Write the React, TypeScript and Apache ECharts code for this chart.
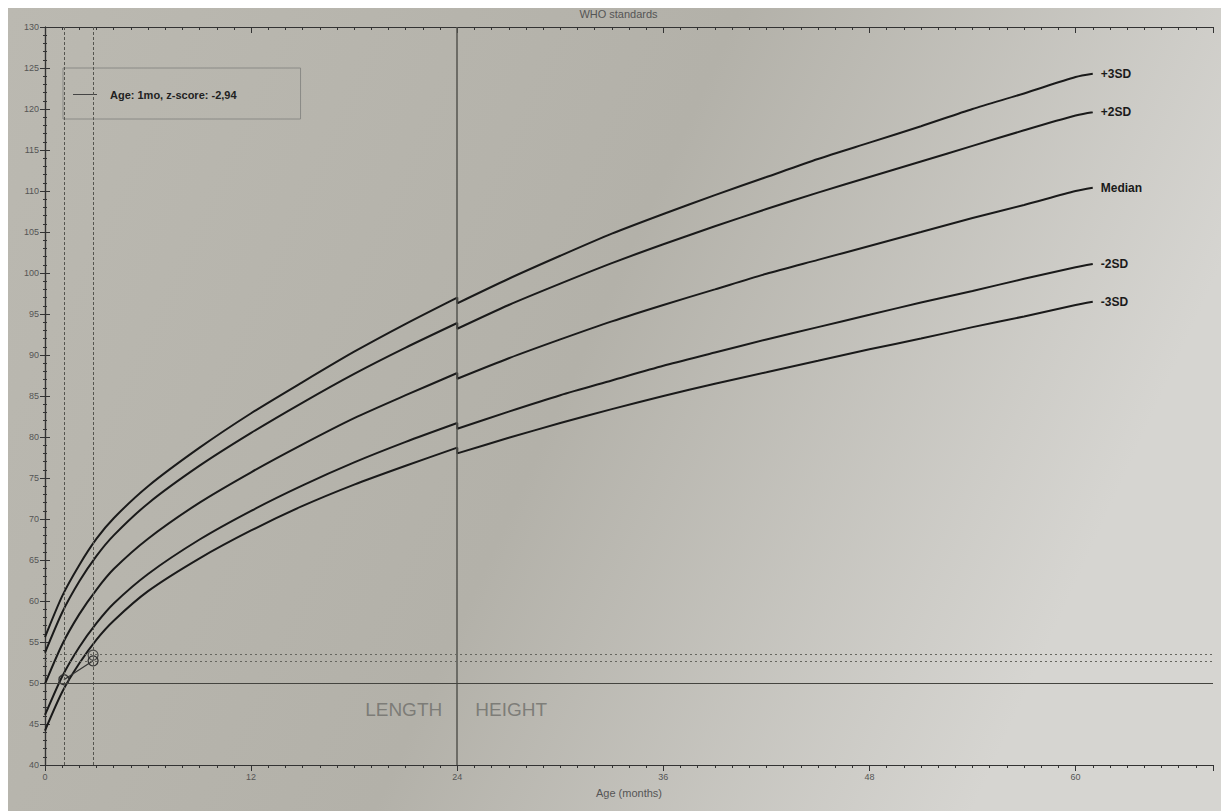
import React, { useEffect, useRef } from "react";
import * as echarts from "echarts";

// WHO length-for-age (0-24 mo) and height-for-age (24-61 mo), boys
const lengthMonths = [0, 1, 2, 3, 4, 6, 9, 12, 15, 18, 21, 24];
const lenM3 = [44.2, 48.9, 52.4, 55.3, 57.6, 61.2, 65.2, 68.6, 71.6, 74.2, 76.5, 78.7];
const lenM2 = [46.1, 50.8, 54.4, 57.3, 59.7, 63.3, 67.5, 71.0, 74.1, 76.9, 79.4, 81.7];
const lenMed = [49.9, 54.7, 58.4, 61.4, 63.9, 67.6, 72.0, 75.7, 79.1, 82.3, 85.1, 87.8];
const lenP2 = [53.7, 58.6, 62.4, 65.5, 68.0, 71.9, 76.5, 80.5, 84.2, 87.7, 90.9, 93.9];
const lenP3 = [55.6, 60.6, 64.4, 67.6, 70.1, 74.0, 78.7, 82.9, 86.7, 90.4, 93.8, 97.0];

const heightMonths = [24, 27, 30, 33, 36, 39, 42, 45, 48, 51, 54, 57, 60, 61];
const hM3 = [78.0, 79.9, 81.7, 83.4, 85.0, 86.5, 87.9, 89.3, 90.7, 92.0, 93.4, 94.7, 96.1, 96.5];
const hM2 = [81.0, 83.1, 85.1, 86.9, 88.7, 90.3, 91.9, 93.4, 94.9, 96.4, 97.8, 99.3, 100.7, 101.1];
const hMed = [87.1, 89.6, 91.9, 94.1, 96.1, 98.0, 99.9, 101.6, 103.3, 105.0, 106.7, 108.3, 110.0, 110.4];
const hP2 = [93.2, 96.1, 98.7, 101.2, 103.5, 105.7, 107.8, 109.8, 111.7, 113.6, 115.5, 117.4, 119.2, 119.6];
const hP3 = [96.3, 99.3, 102.1, 104.8, 107.2, 109.5, 111.7, 113.9, 115.9, 117.9, 120.0, 121.9, 123.9, 124.3];

const curveNames = ["+3SD", "+2SD", "Median", "-2SD", "-3SD"];
const lenCurves = [lenP3, lenP2, lenMed, lenM2, lenM3];
const hCurves = [hP3, hP2, hMed, hM2, hM3];

// patient measurements
const patientName = "Age: 1mo, z-score: -2,94";
const patientAges = [1.1, 2.8];
const patientLengths = [50.4, 52.7];
const extraAges = [2.8];
const extraLengths = [53.4];

const guideAges = [1.1, 2.8];
const guideLevelsDotted = [53.5, 52.6];
const guideLevelSolid = 50;
const dividerAge = 24;

const FONT = "Liberation Sans, Arial, sans-serif";

export default function App() {
  const ref = useRef<HTMLDivElement>(null);
  useEffect(() => {
    if (!ref.current) return;
    const chart = echarts.init(ref.current, null, { renderer: "svg" });

    const sdSeries = curveNames.map((name, i) => {
      const data: number[][] = [];
      lengthMonths.forEach((m, j) => data.push([m, lenCurves[i][j]]));
      heightMonths.forEach((m, j) => data.push([m, hCurves[i][j]]));
      return {
        type: "line",
        name,
        data,
        smooth: 0.25,
        symbol: "none",
        lineStyle: { color: "#1a1a1a", width: 2 },
        endLabel: {
          show: true,
          formatter: "{a}",
          fontFamily: FONT,
          fontWeight: "bold",
          fontSize: 12,
          color: "#1a1a1a",
          distance: 8,
        },
        silent: true,
        z: 3,
      };
    });

    const openCircle = { color: "rgba(0,0,0,0)", borderColor: "#333", borderWidth: 1.3 };

    const option: any = {
      animation: false,
      backgroundColor: {
        type: "linear",
        x: 0,
        y: 0,
        x2: 1,
        y2: 0.3,
        colorStops: [
          { offset: 0, color: "#bbb9b1" },
          { offset: 0.55, color: "#b3b1a9" },
          { offset: 1, color: "#d6d5d1" },
        ],
      },
      title: {
        text: "WHO standards",
        left: "center",
        top: 0,
        padding: [0, 0, 0, 0],
        textStyle: { fontFamily: FONT, fontSize: 11, fontWeight: "normal", color: "#555" },
      },
      legend: {
        left: 55,
        top: 60,
        data: [{ name: patientName, itemStyle: { color: "#444", borderWidth: 0 } }],
        icon: "rect",
        itemWidth: 24,
        itemHeight: 1,
        padding: [21, 64, 19, 10],
        borderColor: "#8a8a86",
        borderWidth: 1,
        selectedMode: false,
        textStyle: { fontFamily: FONT, fontSize: 11, fontWeight: "bold", color: "#222", padding: [0, 0, 0, 8] },
      },
      grid: { left: 37, right: 16, top: 19, bottom: 46 },
      xAxis: [
        {
          type: "value",
          min: 0,
          max: 68,
          interval: 12,
          name: "Age (months)",
          nameLocation: "middle",
          nameGap: 22,
          nameTextStyle: { fontFamily: FONT, fontSize: 11, color: "#555" },
          axisLine: { show: true, lineStyle: { color: "#333", width: 1.2 } },
          axisTick: { show: true, inside: false, length: 6, lineStyle: { color: "#333" } },
          minorTick: { show: true, splitNumber: 12, length: 3, lineStyle: { color: "#333" } },
          axisLabel: { fontFamily: FONT, fontSize: 9, color: "#555", margin: 7, showMaxLabel: false },
          splitLine: { show: false },
        },
        {
          type: "value",
          position: "top",
          min: 0,
          max: 68,
          interval: 12,
          axisLine: { show: true, lineStyle: { color: "#333", width: 1.2 } },
          axisTick: { show: true, inside: true, length: 6, lineStyle: { color: "#333" } },
          minorTick: { show: true, splitNumber: 12, length: 3, lineStyle: { color: "#333" } },
          axisLabel: { show: false },
          splitLine: { show: false },
        },
      ],
      yAxis: [
        {
          type: "value",
          min: 40,
          max: 130,
          interval: 5,
          axisLine: { show: true, lineStyle: { color: "#333", width: 1.2 } },
          axisTick: { show: true, inside: true, length: 5, lineStyle: { color: "#333" } },
          minorTick: { show: true, splitNumber: 5, length: 2, lineStyle: { color: "#333" } },
          axisLabel: { fontFamily: FONT, fontSize: 9, color: "#555", margin: 6 },
          splitLine: { show: false },
        },
        {
          type: "value",
          position: "right",
          min: 40,
          max: 130,
          interval: 5,
          axisLine: { show: true, lineStyle: { color: "#333", width: 1.2 } },
          axisTick: { show: true, inside: true, length: 5, lineStyle: { color: "#333" } },
          minorTick: { show: true, splitNumber: 5, length: 2, lineStyle: { color: "#333" } },
          axisLabel: { show: false },
          splitLine: { show: false },
        },
      ],
      series: [
        ...sdSeries,
        {
          type: "line",
          name: "guides",
          data: [],
          silent: true,
          markLine: {
            silent: true,
            symbol: "none",
            label: { show: false },
            data: [
              { xAxis: dividerAge, lineStyle: { type: "solid", color: "#55554f", width: 1.5 } },
              ...guideAges.map((a) => ({ xAxis: a, lineStyle: { type: [3, 2], color: "#55554f", width: 1 } })),
              ...guideLevelsDotted.map((v) => ({ yAxis: v, lineStyle: { type: [2, 3], color: "#66665f", width: 1 } })),
              { yAxis: guideLevelSolid, lineStyle: { type: "solid", color: "#44443f", width: 1 } },
            ],
          },
        },
        {
          type: "line",
          name: patientName,
          data: patientAges.map((a, i) => [a, patientLengths[i]]),
          symbol: "circle",
          symbolSize: 10,
          itemStyle: openCircle,
          lineStyle: { color: "#333", width: 1.2 },
          z: 4,
        },
        {
          type: "scatter",
          name: "extra",
          data: extraAges.map((a, i) => [a, extraLengths[i]]),
          symbol: "circle",
          symbolSize: 10,
          itemStyle: openCircle,
          z: 4,
        },
        {
          type: "scatter",
          name: "zone labels",
          silent: true,
          symbolSize: 0,
          data: [
            { value: [dividerAge, 46.8], label: { formatter: "LENGTH", position: "left", distance: 15 } },
            { value: [dividerAge, 46.8], label: { formatter: "HEIGHT", position: "right", distance: 18 } },
          ],
          label: { show: true, fontFamily: FONT, fontSize: 19, color: "#6e6e6a" },
        },
      ],
    };
    chart.setOption(option);
    return () => chart.dispose();
  }, []);
  return <div ref={ref} style={{ width: 1221, height: 803 }} />;
}
